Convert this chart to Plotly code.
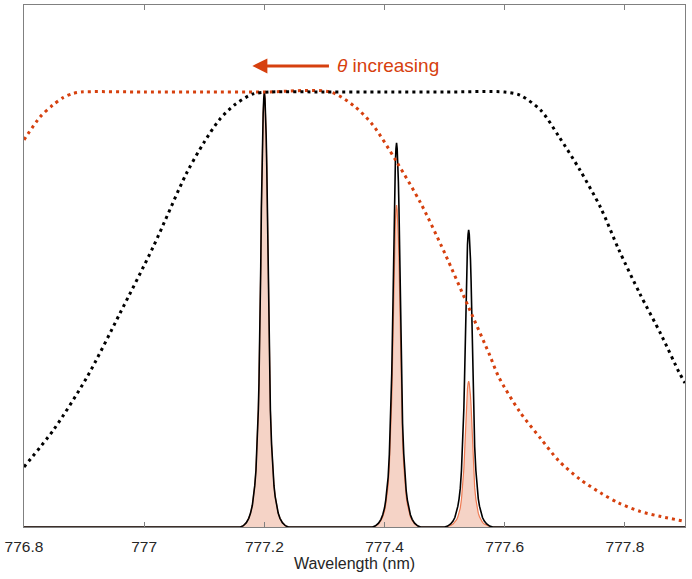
import plotly.graph_objects as go

# ---- data ----
TICK_VALS = [776.8, 777.0, 777.2, 777.4, 777.6, 777.8]
TICK_TEXT = ["776.8", "777", "777.2", "777.4", "777.6", "777.8"]

FILTER_BLACK_X = [776.80, 776.85, 776.905, 776.96, 777.015, 777.07, 777.10, 777.125, 777.15,
                  777.18, 777.21, 777.30, 777.40, 777.50, 777.60, 777.625, 777.66, 777.69,
                  777.725, 777.76, 777.79, 777.825, 777.86, 777.89, 777.90]
FILTER_BLACK_Y = [0.138, 0.225, 0.345, 0.492, 0.644, 0.812, 0.885, 0.936, 0.970,
                  0.995, 1.0, 1.0, 1.0, 1.0, 1.0, 0.993, 0.958, 0.898,
                  0.821, 0.733, 0.637, 0.536, 0.443, 0.356, 0.331]

FILTER_RED_X = [776.80, 776.827, 776.848, 776.865, 776.88, 776.895, 777.00, 777.10, 777.20,
                777.31, 777.35, 777.38, 777.42, 777.46, 777.50, 777.54, 777.575, 777.59,
                777.625, 777.66, 777.69, 777.725, 777.76, 777.79, 777.825, 777.86, 777.90]
FILTER_RED_Y = [0.890, 0.943, 0.970, 0.987, 0.996, 1.0, 1.0, 1.0, 1.0,
                1.0, 0.967, 0.925, 0.840, 0.745, 0.630, 0.505, 0.395, 0.345,
                0.265, 0.203, 0.152, 0.110, 0.078, 0.055, 0.036, 0.024, 0.013]

LINE_CENTERS = [777.20, 777.42, 777.54]
PEAKS_UNFILTERED = [1.0, 0.883, 0.683]
PEAKS_FILTERED = [1.0, 0.74, 0.335]

# half line profile (offset from centre in nm, relative height)
PROFILE_DX = [0.0, 0.001, 0.002, 0.003, 0.004, 0.005, 0.006, 0.007, 0.008, 0.009, 0.010,
              0.012, 0.014, 0.016, 0.018, 0.020, 0.023, 0.026, 0.030, 0.035, 0.040]
PROFILE_REL = [1.0, 0.985, 0.95, 0.90, 0.83, 0.73, 0.60, 0.49, 0.40, 0.33, 0.27,
               0.19, 0.13, 0.095, 0.07, 0.05, 0.032, 0.02, 0.01, 0.003, 0.0]

X_MIN, X_MAX = 776.8, 777.9

RED = "#D6400E"
FILL = "#F5D3C6"
ORANGE_LINE = "#EE7A52"
FONT = "Liberation Sans, Arial"


def spectrum(heights):
    xs, ys = [X_MIN], [0.0]
    for c, h in zip(LINE_CENTERS, heights):
        for dx, r in zip(reversed(PROFILE_DX), reversed(PROFILE_REL)):
            xs.append(c - dx); ys.append(h * r)
        for dx, r in zip(PROFILE_DX[1:], PROFILE_REL[1:]):
            xs.append(c + dx); ys.append(h * r)
    xs.append(X_MAX); ys.append(0.0)
    return xs, ys


fig = go.Figure()

fx, fy = spectrum(PEAKS_FILTERED)
fig.add_trace(go.Scatter(x=fx, y=fy, mode="lines", fill="tozeroy", fillcolor=FILL,
                         line=dict(color=ORANGE_LINE, width=1.2), showlegend=False,
                         hoverinfo="skip"))

bx, by = spectrum(PEAKS_UNFILTERED)
fig.add_trace(go.Scatter(x=bx, y=by, mode="lines",
                         line=dict(color="black", width=1.6), showlegend=False))

fig.add_trace(go.Scatter(x=FILTER_RED_X, y=FILTER_RED_Y, mode="lines",
                         line=dict(color=RED, width=3, dash="3px,4px", shape="spline",
                                   smoothing=0.8), showlegend=False))
fig.add_trace(go.Scatter(x=FILTER_BLACK_X, y=FILTER_BLACK_Y, mode="lines",
                         line=dict(color="black", width=3, dash="3px,4px", shape="spline",
                                   smoothing=0.8), showlegend=False))

# arrow + label
fig.add_annotation(x=777.18, y=1.06, ax=777.31, ay=1.06, axref="x", ayref="y",
                   xref="x", yref="y", text="", showarrow=True, arrowhead=2,
                   arrowsize=1.0, arrowwidth=3, arrowcolor=RED)
fig.add_annotation(x=777.318, y=1.062, xref="x", yref="y", xanchor="left", yanchor="middle",
                   text="<i>θ</i> increasing", showarrow=False,
                   font=dict(family=FONT, size=19, color=RED))

fig.update_layout(
    width=692, height=579,
    margin=dict(l=24, r=7, t=5, b=52),
    paper_bgcolor="white", plot_bgcolor="white",
    font=dict(family=FONT, color="#262626"),
    xaxis=dict(range=[X_MIN, X_MAX], tickvals=TICK_VALS, ticktext=TICK_TEXT,
               ticks="inside", ticklen=5, tickcolor="#808080", mirror="allticks",
               showline=True, linecolor="#808080", linewidth=1, showgrid=False,
               zeroline=False, automargin=False, ticklabelstandoff=5,
               tickfont=dict(size=15.5, color="#262626"),
               title=dict(text="Wavelength (nm)", font=dict(size=16, color="#262626"),
                          standoff=3)),
    yaxis=dict(range=[0, 1.2], showticklabels=False, ticks="", showline=True,
               mirror=True, linecolor="#808080", linewidth=1, showgrid=False,
               zeroline=False, automargin=False),
)

fig.write_html("out.html", config={"displayModeBar": False},
               post_script="document.body.style.margin='0';document.body.style.overflow='hidden';")
